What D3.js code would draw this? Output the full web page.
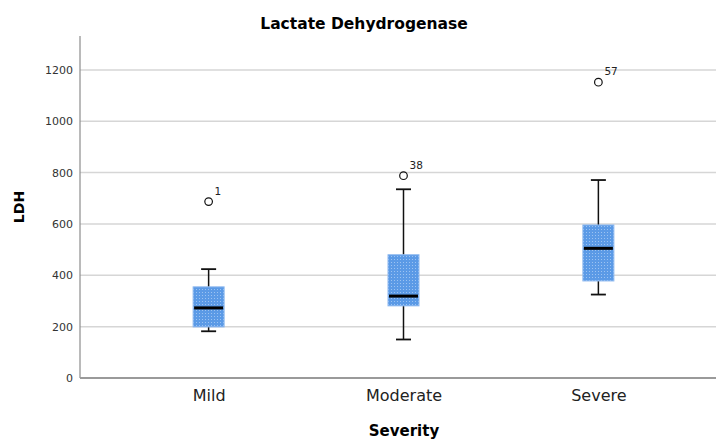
<!DOCTYPE html>
<html>
<head>
<meta charset="utf-8">
<script src="https://cdn.jsdelivr.net/npm/d3@7"></script>
<style>
  body { margin: 0; background: #fff; }
  text { font-family: "DejaVu Sans", sans-serif; }
</style>
</head>
<body>
<div id="chart"></div>
<script>
// data
const categories = ["Mild", "Moderate", "Severe"];
const whiskerLow = [182, 150, 325];
const q1 = [199, 281, 378];
const median = [273, 319, 505];
const q3 = [355, 480, 596];
const whiskerHigh = [424, 735, 771];
const outliers = [
  { cat: "Mild", value: 687, label: "1" },
  { cat: "Moderate", value: 788, label: "38" },
  { cat: "Severe", value: 1152, label: "57" }
];
const yTicks = [0, 200, 400, 600, 800, 1000, 1200];

const width = 716, height = 439;
const margin = { top: 36, left: 80, bottom: 378, right: 727 };

const svg = d3.select("#chart").append("svg")
  .attr("width", width)
  .attr("height", height);

// dotted fill like SPSS
const defs = svg.append("defs");
const pat = defs.append("pattern")
  .attr("id", "dots")
  .attr("patternUnits", "userSpaceOnUse")
  .attr("width", 3).attr("height", 3);
pat.append("rect").attr("width", 3).attr("height", 3).attr("fill", "#5b9ae6");
pat.append("rect").attr("x", 1).attr("y", 1).attr("width", 1).attr("height", 1).attr("fill", "#9cc3f2");

const x = d3.scalePoint()
  .domain(categories)
  .range([margin.left, margin.right])
  .padding(0.66);

const y = d3.scaleLinear()
  .domain([0, 1332])
  .range([margin.bottom, margin.top]);

// grid lines
svg.append("g")
  .selectAll("line")
  .data(yTicks.filter(d => d > 0))
  .join("line")
  .attr("x1", margin.left).attr("x2", width)
  .attr("y1", d => y(d)).attr("y2", d => y(d))
  .attr("stroke", "#d6d6d6")
  .attr("stroke-width", 1.5);

// y axis
const yAxis = svg.append("g")
  .attr("transform", `translate(${margin.left},0)`)
  .call(d3.axisLeft(y).tickValues(yTicks).tickFormat(d3.format("d")).tickSize(0).tickPadding(7));
yAxis.select(".domain").remove();
yAxis.selectAll("text")
  .style("font-size", "11px")
  .style("font-family", "DejaVu Sans, sans-serif")
  .attr("fill", "#333");

// x axis
const xAxis = svg.append("g")
  .attr("transform", `translate(0,${margin.bottom})`)
  .call(d3.axisBottom(x).tickSize(0).tickPadding(12));
xAxis.select(".domain").remove();
xAxis.selectAll("text")
  .style("font-size", "16px")
  .style("font-family", "DejaVu Sans, sans-serif")
  .attr("fill", "#222");

// axis lines
svg.append("line")
  .attr("x1", margin.left).attr("x2", margin.left)
  .attr("y1", margin.top).attr("y2", margin.bottom)
  .attr("stroke", "#8c8c8c").attr("stroke-width", 1.2);
svg.append("line")
  .attr("x1", margin.left).attr("x2", width)
  .attr("y1", margin.bottom).attr("y2", margin.bottom)
  .attr("stroke", "#9a9a9a").attr("stroke-width", 2);

// boxes
const boxW = 31, capW = 15;
const boxes = svg.append("g")
  .selectAll("g")
  .data(categories)
  .join("g");

boxes.append("line")
  .attr("x1", d => x(d)).attr("x2", d => x(d))
  .attr("y1", (d, i) => y(whiskerHigh[i])).attr("y2", (d, i) => y(q3[i]))
  .attr("stroke", "#111").attr("stroke-width", 1.5);
boxes.append("line")
  .attr("x1", d => x(d)).attr("x2", d => x(d))
  .attr("y1", (d, i) => y(q1[i])).attr("y2", (d, i) => y(whiskerLow[i]))
  .attr("stroke", "#111").attr("stroke-width", 1.5);
boxes.append("line")
  .attr("x1", d => x(d) - capW / 2).attr("x2", d => x(d) + capW / 2)
  .attr("y1", (d, i) => y(whiskerHigh[i])).attr("y2", (d, i) => y(whiskerHigh[i]))
  .attr("stroke", "#111").attr("stroke-width", 1.8);
boxes.append("line")
  .attr("x1", d => x(d) - capW / 2).attr("x2", d => x(d) + capW / 2)
  .attr("y1", (d, i) => y(whiskerLow[i])).attr("y2", (d, i) => y(whiskerLow[i]))
  .attr("stroke", "#111").attr("stroke-width", 1.8);

boxes.append("rect")
  .attr("x", d => x(d) - boxW / 2)
  .attr("width", boxW)
  .attr("y", (d, i) => y(q3[i]))
  .attr("height", (d, i) => y(q1[i]) - y(q3[i]))
  .attr("fill", "url(#dots)")
  .attr("stroke", "#8db8ef")
  .attr("stroke-width", 1);

boxes.append("line")
  .attr("x1", d => x(d) - boxW / 2 + 1).attr("x2", d => x(d) + boxW / 2 - 1)
  .attr("y1", (d, i) => y(median[i])).attr("y2", (d, i) => y(median[i]))
  .attr("stroke", "#000").attr("stroke-width", 3);

// outliers
const out = svg.append("g")
  .selectAll("g")
  .data(outliers)
  .join("g");
out.append("circle")
  .attr("cx", d => x(d.cat))
  .attr("cy", d => y(d.value))
  .attr("r", 3.8)
  .attr("fill", "none")
  .attr("stroke", "#111")
  .attr("stroke-width", 1.2);
out.append("text")
  .attr("x", d => x(d.cat) + 6)
  .attr("y", d => y(d.value) - 7)
  .style("font-size", "10.5px")
  .attr("fill", "#222")
  .text(d => d.label);

// titles
svg.append("text")
  .attr("x", 364).attr("y", 29)
  .attr("text-anchor", "middle")
  .style("font-size", "15.5px")
  .style("font-weight", "bold")
  .text("Lactate Dehydrogenase");

svg.append("text")
  .attr("x", 404).attr("y", 436)
  .attr("text-anchor", "middle")
  .style("font-size", "15px")
  .style("font-weight", "bold")
  .text("Severity");

svg.append("text")
  .attr("transform", `translate(23.5,${(margin.top + margin.bottom) / 2}) rotate(-90)`)
  .attr("text-anchor", "middle")
  .style("font-size", "14px")
  .style("font-weight", "bold")
  .text("LDH");
</script>
</body>
</html>
